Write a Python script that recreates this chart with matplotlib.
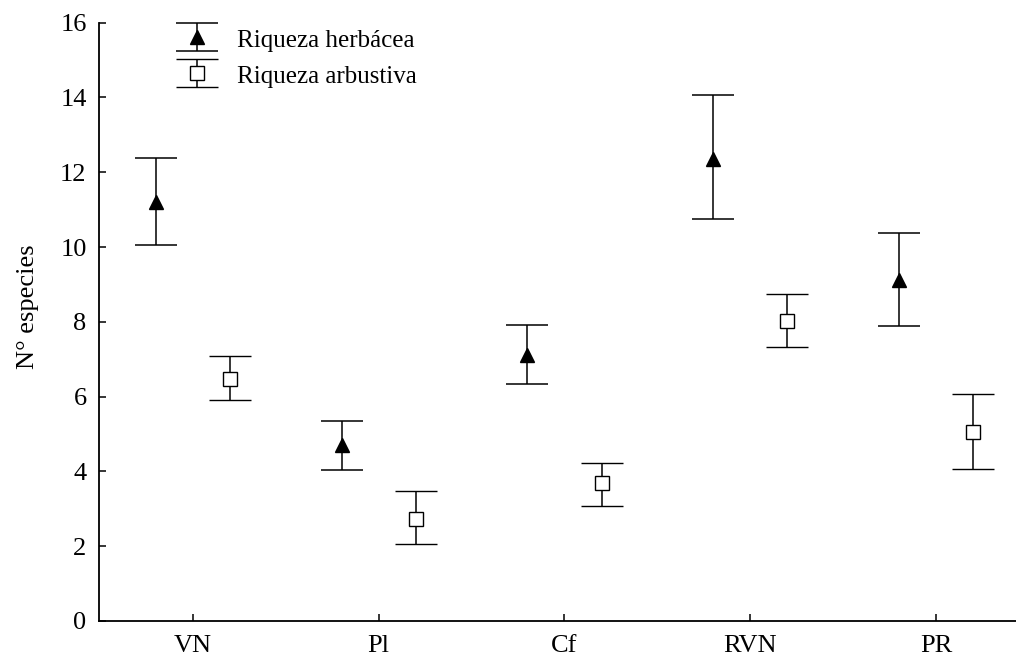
import numpy as np
import matplotlib.pyplot as plt
from matplotlib.container import ErrorbarContainer
from matplotlib.legend_handler import HandlerErrorbar

categories = ["VN", "Pl", "Cf", "RVN", "PR"]

herb_mean = [11.20, 4.70, 7.10, 12.36, 9.13]
herb_upper = [12.39, 5.34, 7.92, 14.07, 10.38]
herb_lower = [10.05, 4.03, 6.35, 10.75, 7.89]

arb_mean = [6.48, 2.73, 3.68, 8.03, 5.06]
arb_upper = [7.08, 3.48, 4.23, 8.74, 6.07]
arb_lower = [5.90, 2.05, 3.08, 7.32, 4.06]

plt.rcParams["font.family"] = ["Liberation Serif", "DejaVu Serif"]

fig = plt.figure(figsize=(10.16, 6.59), dpi=100)
ax = fig.add_axes([0.0975, 0.0577, 0.9025, 0.9079])

x = np.arange(1, len(categories) + 1)
off = 0.2

hm = np.array(herb_mean)
am = np.array(arb_mean)
herb_err = [hm - np.array(herb_lower), np.array(herb_upper) - hm]
arb_err = [am - np.array(arb_lower), np.array(arb_upper) - am]

eb1 = ax.errorbar(x - off, hm, yerr=herb_err, fmt="^", color="black", ms=10,
                  ecolor="black", elinewidth=1.1, capsize=15, capthick=1.1,
                  label="Riqueza herbácea")
eb2 = ax.errorbar(x + off, am, yerr=arb_err, fmt="s", mfc="white", mec="black",
                  ms=9.5, mew=1.0, ecolor="black", elinewidth=1.1, capsize=15,
                  capthick=1.1, label="Riqueza arbustiva", zorder=3)

ax.set_xlim(0.495, 5.43)
ax.set_ylim(0, 16)
ax.set_yticks(range(0, 17, 2))
ax.set_xticks(x)
ax.set_xticklabels(categories)

for s in ["top", "right"]:
    ax.spines[s].set_visible(False)
for s in ["left", "bottom"]:
    ax.spines[s].set_linewidth(1.3)

ax.tick_params(axis="y", direction="in", length=5, width=1.1, labelsize=19, pad=9)
ax.tick_params(axis="x", direction="in", length=5, width=1.1, labelsize=19, pad=10)

fig.text(28 / 1016, 1 - 307 / 659, "N° especies", rotation=90, ha="center",
         va="center", fontsize=19)

ax.legend(handles=[eb1, eb2], loc="upper left", bbox_to_anchor=(0.066, 1.01),
          frameon=False, fontsize=18, handlelength=2.2, handleheight=1.1,
          labelspacing=0.42, handletextpad=0.5, borderaxespad=0,
          handler_map={ErrorbarContainer: HandlerErrorbar(yerr_size=0.55)})

fig.savefig("out.png", dpi=100)
